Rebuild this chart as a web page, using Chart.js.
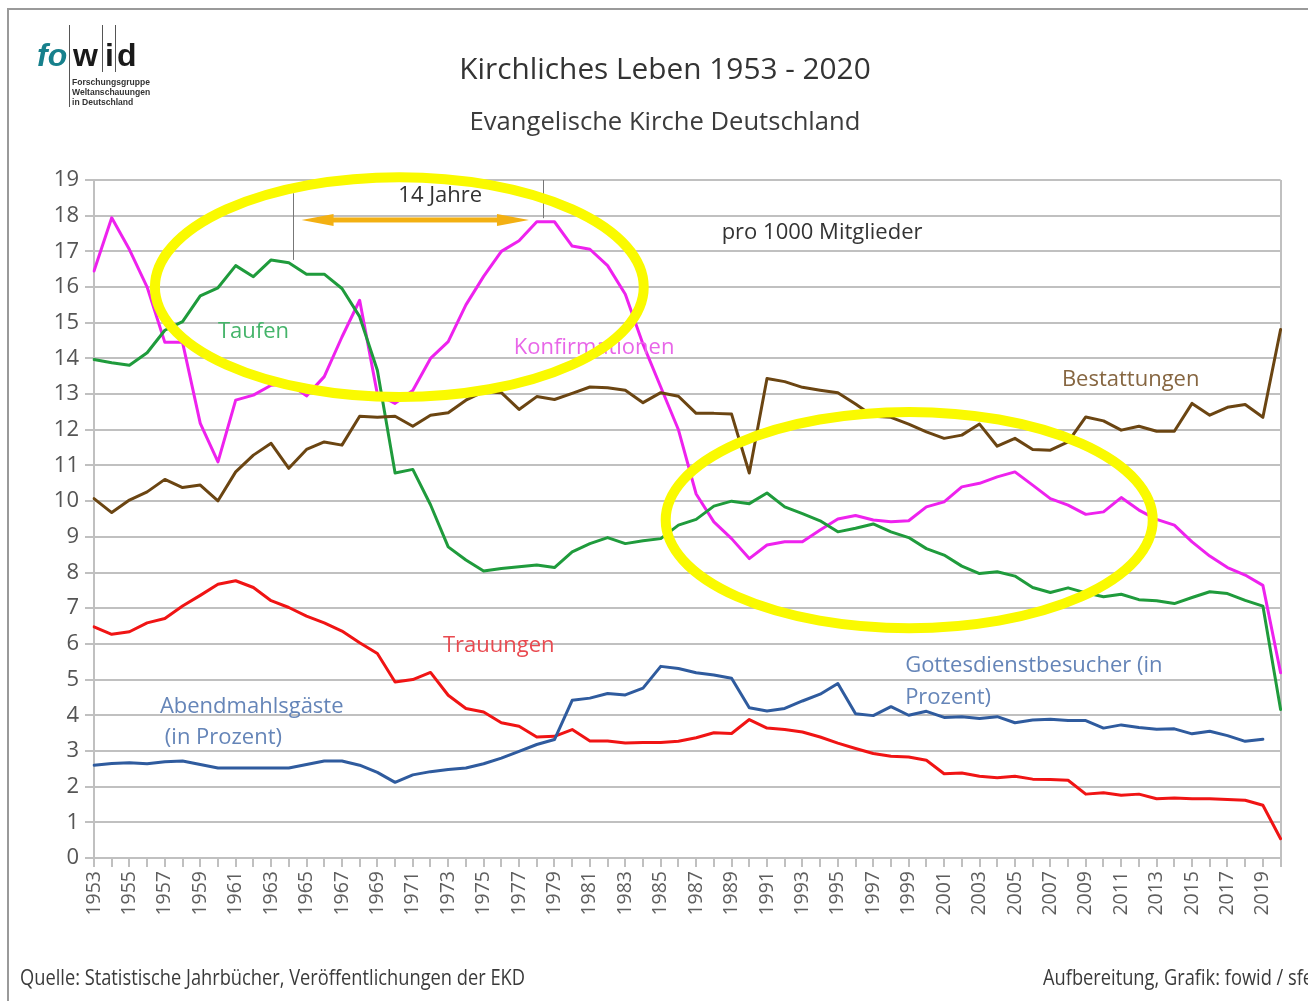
<!DOCTYPE html>
<html lang="de">
<head>
<meta charset="utf-8">
<title>Kirchliches Leben 1953 - 2020</title>
<script src="https://cdn.jsdelivr.net/npm/chart.js@4/dist/chart.umd.min.js"></script>
<style>
  html, body { margin: 0; padding: 0; background: #fff; }
  #wrap { position: relative; width: 1308px; height: 1001px; overflow: hidden; }
  canvas { display: block; }
</style>
</head>
<body>
<div id="wrap"><canvas id="kirche" width="1308" height="1001"></canvas></div>
<script>
// ── DATA (pro 1000 Mitglieder, EKD) ─────────────────────
const YEARS = [
  '1953','1954','1955','1956','1957','1958','1959','1960','1961','1962',
  '1963','1964','1965','1966','1967','1968','1969','1970','1971','1972',
  '1973','1974','1975','1976','1977','1978','1979','1980','1981','1982',
  '1983','1984','1985','1986','1987','1988','1989','1990','1991','1992',
  '1993','1994','1995','1996','1997','1998','1999','2000','2001','2002',
  '2003','2004','2005','2006','2007','2008','2009','2010','2011','2012',
  '2013','2014','2015','2016','2017','2018','2019','2020'
];

const KONFIRMATIONEN = [
  16.45,17.94,17.05,16.0,14.45,14.45,12.18,11.1,12.83,12.97,
  13.25,13.3,12.95,13.49,14.6,15.63,13.0,12.74,13.1,14.0,
  14.47,15.5,16.3,17.0,17.3,17.83,17.83,17.15,17.06,16.6,
  15.8,14.4,13.2,12.0,10.2,9.42,8.95,8.39,8.77,8.86,
  8.86,9.19,9.5,9.6,9.47,9.42,9.45,9.84,9.98,10.4,
  10.5,10.68,10.82,10.45,10.07,9.89,9.63,9.7,10.1,9.75,
  9.49,9.33,8.86,8.46,8.14,7.93,7.64,5.19
];

const TAUFEN = [
  13.97,13.88,13.81,14.16,14.79,15.03,15.75,15.98,16.6,16.29,
  16.76,16.68,16.36,16.36,15.96,15.17,13.67,10.79,10.89,9.9,
  8.72,8.35,8.04,8.11,8.16,8.21,8.14,8.58,8.81,8.98,
  8.81,8.89,8.95,9.33,9.49,9.86,10.0,9.93,10.23,9.84,
  9.65,9.45,9.14,9.24,9.36,9.14,8.98,8.67,8.49,8.18,
  7.97,8.02,7.9,7.58,7.44,7.57,7.43,7.32,7.39,7.24,
  7.21,7.13,7.3,7.46,7.41,7.22,7.06,4.16
];

const BESTATTUNGEN = [
  10.07,9.68,10.03,10.26,10.61,10.38,10.45,10.01,10.82,11.29,
  11.62,10.92,11.45,11.66,11.57,12.38,12.35,12.38,12.1,12.41,
  12.48,12.83,13.07,13.04,12.57,12.93,12.85,13.02,13.2,13.18,
  13.11,12.76,13.04,12.94,12.46,12.46,12.44,10.79,13.44,13.35,
  13.19,13.11,13.04,12.72,12.38,12.35,12.16,11.94,11.76,11.85,
  12.16,11.54,11.76,11.45,11.43,11.66,12.36,12.25,11.99,12.1,
  11.96,11.96,12.74,12.41,12.63,12.71,12.35,14.81
];

const TRAUUNGEN = [
  6.48,6.27,6.34,6.59,6.71,7.06,7.36,7.67,7.77,7.58,
  7.21,7.02,6.78,6.59,6.36,6.03,5.73,4.93,5.0,5.2,
  4.56,4.19,4.09,3.79,3.69,3.39,3.41,3.6,3.28,3.28,
  3.22,3.24,3.24,3.27,3.37,3.51,3.49,3.88,3.64,3.6,
  3.53,3.39,3.22,3.07,2.93,2.85,2.83,2.74,2.36,2.38,
  2.29,2.25,2.29,2.21,2.2,2.18,1.79,1.83,1.76,1.79,
  1.66,1.68,1.66,1.66,1.64,1.62,1.48,0.54
];

// Abendmahlsgäste / Gottesdienstbesucher, in Prozent
const BESUCHER = [
  2.6,2.65,2.67,2.64,2.7,2.72,2.62,2.52,2.52,2.52,
  2.52,2.52,2.62,2.72,2.72,2.6,2.4,2.12,2.33,2.42,
  2.48,2.52,2.64,2.8,2.99,3.18,3.32,4.42,4.48,4.61,
  4.57,4.76,5.37,5.31,5.19,5.13,5.04,4.21,4.12,4.19,
  4.4,4.59,4.89,4.04,3.99,4.24,4.0,4.11,3.94,3.96,
  3.91,3.96,3.79,3.87,3.89,3.85,3.85,3.64,3.73,3.66,
  3.61,3.62,3.48,3.55,3.43,3.27,3.33,null
];

// ── STYLE ─────────────────────────────
const FONT   = '"Open Sans", "Noto Sans", sans-serif';
const GRID   = '#c0c0c0';
const C_KONF = '#ee22ee';
const C_TAUF = '#1f9b3c';
const C_BEST = '#6b4512';
const C_TRAU = '#f01414';
const C_BES  = '#2f5b9e';
const YELLOW = '#fafa00';

// series labels, placed in chart coordinates (x = year index, y = value)
const NOTES = [
  { text: 'Taufen',               x: 7.0,   y: 14.74, color: '#45b46a' },
  { text: 'Konfirmationen',       x: 23.7,  y: 14.29, color: '#e866e8' },
  { text: 'Bestattungen',         x: 54.65, y: 13.4,  color: '#866641' },
  { text: 'Trauungen',            x: 19.7,  y: 5.96,  color: '#e94a50' },
  { text: 'Abendmahlsgäste',      x: 3.72,  y: 4.25,  color: '#6585b8' },
  { text: '(in Prozent)',         x: 4.0,   y: 3.36,  color: '#6585b8' },
  { text: 'Gottesdienstbesucher (in', x: 45.8, y: 5.4, color: '#6585b8' },
  { text: 'Prozent)',             x: 45.8,  y: 4.48,  color: '#6585b8' },
  { text: 'pro 1000 Mitglieder',  x: 35.44, y: 17.51, color: '#333333' }
];

// highlight rings: centre and radii in chart units
const RINGS = [
  { cx: 17.24, cy: 16.0, rx: 13.8,  ry: 3.08 },
  { cx: 46.03, cy: 9.47, rx: 13.75, ry: 3.03 }
];

const fmtSkip = (v, i) => (i % 2 === 0 ? YEARS[i] : '');

// ── DECORATION PLUGIN ─────────────────────────
const decor = {
  id: 'decor',
  beforeDraw(chart) {
    const ctx = chart.ctx;
    ctx.save();
    ctx.fillStyle = '#fff';
    ctx.fillRect(0, 0, chart.width, chart.height);
    ctx.restore();
  },
  afterDatasetsDraw(chart) {
    const { ctx, scales: { x, y } } = chart;
    const px = v => x.getPixelForValue(v);
    const py = v => y.getPixelForValue(v);
    ctx.save();

    // series names
    ctx.font = '22px ' + FONT;
    ctx.textBaseline = 'middle';
    ctx.textAlign = 'left';
    NOTES.forEach(n => {
      ctx.fillStyle = n.color;
      ctx.fillText(n.text, px(n.x), py(n.y));
    });

    // 14 Jahre: markers + arrow
    ctx.strokeStyle = '#777';
    ctx.lineWidth = 1;
    ctx.beginPath();
    ctx.moveTo(Math.round(px(11.21)) + 0.5, py(18.63));
    ctx.lineTo(Math.round(px(11.21)) + 0.5, py(16.76));
    ctx.moveTo(Math.round(px(25.35)) + 0.5, py(19.0));
    ctx.lineTo(Math.round(px(25.35)) + 0.5, py(17.93));
    ctx.stroke();

    ctx.fillStyle = '#333';
    ctx.textAlign = 'center';
    ctx.fillText('14 Jahre', px(19.55), py(18.55));

    const ax1 = px(11.72), ax2 = px(24.56), ay = py(17.88);
    const head = 32, half = 6;
    ctx.fillStyle = '#f3b012';
    ctx.fillRect(ax1 + head - 4, ay - 2.5, (ax2 - ax1) - 2 * head + 8, 5);
    ctx.beginPath();
    ctx.moveTo(ax1, ay);
    ctx.lineTo(ax1 + head, ay - half);
    ctx.lineTo(ax1 + head, ay + half);
    ctx.closePath();
    ctx.moveTo(ax2, ay);
    ctx.lineTo(ax2 - head, ay - half);
    ctx.lineTo(ax2 - head, ay + half);
    ctx.closePath();
    ctx.fill();

    // yellow rings on top of everything
    ctx.strokeStyle = YELLOW;
    ctx.lineWidth = 10;
    RINGS.forEach(r => {
      const cx = px(r.cx), cy = py(r.cy);
      const rx = Math.abs(px(r.cx + r.rx) - cx);
      const ry = Math.abs(py(r.cy + r.ry) - cy);
      ctx.beginPath();
      ctx.ellipse(cx, cy, rx, ry, 0, 0, Math.PI * 2);
      ctx.stroke();
    });
    ctx.restore();
  },
  afterDraw(chart) {
    const ctx = chart.ctx;
    ctx.save();

    // outer frame
    ctx.strokeStyle = '#9a9a9a';
    ctx.lineWidth = 2;
    ctx.beginPath();
    ctx.moveTo(8, 1001);
    ctx.lineTo(8, 9);
    ctx.lineTo(1308, 9);
    ctx.stroke();

    // titles
    ctx.textAlign = 'center';
    ctx.textBaseline = 'alphabetic';
    ctx.fillStyle = '#333';
    ctx.font = '29.8px ' + FONT;
    ctx.fillText('Kirchliches Leben 1953 - 2020', 665, 79);
    ctx.fillStyle = '#3c3c3c';
    ctx.font = '25.6px ' + FONT;
    ctx.fillText('Evangelische Kirche Deutschland', 665, 130);

    // logo
    ctx.textAlign = 'left';
    ctx.fillStyle = '#17808c';
    ctx.font = 'italic bold 32px "Liberation Sans", sans-serif';
    ctx.fillText('fo', 37, 66);
    ctx.fillStyle = '#1a1a1a';
    ctx.font = 'bold 32px "Liberation Sans", sans-serif';
    ctx.fillText('w', 73, 66);
    ctx.fillText('i', 105, 66);
    ctx.fillText('d', 117, 66);
    ctx.strokeStyle = '#555';
    ctx.lineWidth = 1;
    ctx.beginPath();
    ctx.moveTo(69.5, 25); ctx.lineTo(69.5, 107);
    ctx.moveTo(102.5, 25); ctx.lineTo(102.5, 72);
    ctx.moveTo(115.5, 25); ctx.lineTo(115.5, 72);
    ctx.stroke();
    ctx.fillStyle = '#333';
    ctx.font = 'bold 9.5px "Liberation Sans", sans-serif';
    ['Forschungsgruppe', 'Weltanschauungen', 'in Deutschland'].forEach((t, i) => {
      ctx.save();
      ctx.translate(72, 85 + i * 10.2);
      ctx.scale(0.9, 1);
      ctx.fillText(t, 0, 0);
      ctx.restore();
    });

    // footer, narrow lettering
    ctx.fillStyle = '#3a3a3a';
    ctx.font = '21px ' + FONT;
    const src = 'Quelle: Statistische Jahrbücher, Veröffentlichungen der EKD';
    const sx = 505 / ctx.measureText(src).width;
    ctx.save();
    ctx.translate(20, 985);
    ctx.scale(sx, 1);
    ctx.fillText(src, 0, 0);
    ctx.restore();
    ctx.save();
    ctx.translate(1043, 985);
    ctx.scale(sx, 1);
    ctx.fillText('Aufbereitung, Grafik: fowid / sfe', 0, 0);
    ctx.restore();

    ctx.restore();
  }
};

// ── CHART ─────────────────────────────────
const line = (label, data, color) => ({
  label, data,
  borderColor: color, backgroundColor: color,
  borderWidth: 3, pointRadius: 0, tension: 0,
  borderJoinStyle: 'round', borderCapStyle: 'round',
  spanGaps: false
});

new Chart(document.getElementById('kirche'), {
  type: 'line',
  data: {
    labels: YEARS,
    datasets: [
      line('Abendmahlsgäste / Gottesdienstbesucher', BESUCHER, C_BES),
      line('Trauungen', TRAUUNGEN, C_TRAU),
      line('Bestattungen', BESTATTUNGEN, C_BEST),
      line('Taufen', TAUFEN, C_TAUF),
      line('Konfirmationen', KONFIRMATIONEN, C_KONF)
    ]
  },
  options: {
    responsive: false,
    animation: false,
    layout: { padding: { top: 180, right: 25, left: 0, bottom: 0 } },
    plugins: { legend: { display: false }, tooltip: { enabled: false } },
    scales: {
      x: {
        grid: {
          color: c => (c.index === YEARS.length - 1 ? GRID : 'rgba(0,0,0,0)'),
          tickColor: GRID, tickLength: 9, lineWidth: 2
        },
        border: { color: GRID, width: 2 },
        ticks: {
          autoSkip: false, minRotation: 90, maxRotation: 90, padding: 4,
          color: '#5e5e5e', font: { family: FONT, size: 19.5 },
          callback: fmtSkip
        },
        afterFit: s => { s.height = 143; }
      },
      y: {
        min: 0, max: 19,
        grid: { color: GRID, lineWidth: 2, tickLength: 9 },
        border: { color: GRID, width: 2 },
        ticks: { stepSize: 1, padding: 6, color: '#555', font: { family: FONT, size: 22 } },
        afterFit: s => { s.width = 94; }
      }
    }
  },
  plugins: [decor]
});
</script>
</body>
</html>
